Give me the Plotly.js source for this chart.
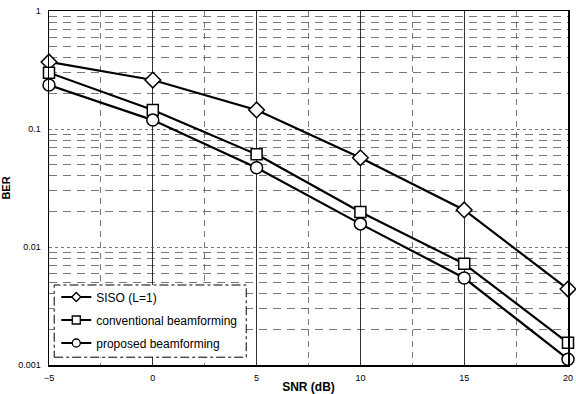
<!DOCTYPE html>
<html>
<head>
<meta charset="utf-8">
<script src="https://cdn.plot.ly/plotly-3.0.1.min.js"></script>
<style>html,body{margin:0;padding:0;background:#fff;}#chart{width:576px;height:394px;}</style>
</head>
<body>
<div id="chart"></div>
<script>
const snr = [-5, 0, 5, 10, 15, 20];
const berSISO = [0.37, 0.26, 0.145, 0.057, 0.0206, 0.0044];
const berConventional = [0.30, 0.145, 0.061, 0.0198, 0.0072, 0.00154];
const berProposed = [0.236, 0.119, 0.047, 0.0157, 0.00546, 0.00112];
const seriesNames = ["SISO (L=1)", "conventional beamforming", "proposed beamforming"];
const yTickVals = [0.001, 0.01, 0.1, 1];
const yTickText = ["0.001", "0.01", "0.1", "1"];
const xTickVals = [-5, 0, 5, 10, 15, 20];

const yMinor = [];
[0.001, 0.01, 0.1].forEach(d => { for (let k = 2; k <= 9; k++) yMinor.push(d * k); });

const symbols = ['diamond', 'square', 'circle'];
const sizes = [12, 11, 12];
const legendSizes = [7, 8, 8];
const series = [berSISO, berConventional, berProposed];

const data = [];
series.forEach((y, i) => {
  data.push({
    x: snr, y: y, name: seriesNames[i], type: 'scatter', mode: 'lines+markers',
    showlegend: false,
    line: {color: '#000', width: 2.2},
    marker: {symbol: symbols[i], size: sizes[i], color: '#fff', line: {color: '#000', width: 1.5}},
    cliponaxis: false
  });
});
series.forEach((y, i) => {
  data.push({
    x: [null], y: [null], name: seriesNames[i], type: 'scatter', mode: 'lines+markers',
    legendgroup: 'g' + i, showlegend: true,
    line: {color: '#000', width: 2.2},
    marker: {symbol: symbols[i], size: legendSizes[i], color: '#fff', line: {color: '#000', width: 1.3}}
  });
});

const layout = {
  width: 576, height: 394,
  margin: {l: 49, r: 8, t: 11, b: 29},
  paper_bgcolor: '#fff', plot_bgcolor: '#fff',
  font: {family: 'Liberation Sans, Arial, sans-serif', color: '#000', size: 9},
  showlegend: true,
  legend: {
    x: 0.014, y: 0.233, xanchor: 'left', yanchor: 'top',
    bgcolor: 'rgba(0,0,0,0)', bordercolor: '#000', borderwidth: 0,
    font: {size: 12, family: 'Liberation Sans, Arial, sans-serif'},
    tracegroupgap: 4, itemwidth: 30
  },
  shapes: [
    {type: 'rect', xref: 'paper', yref: 'paper', x0: 0.01, x1: 0.38, y0: 0.022, y1: 0.226,
     fillcolor: '#fff', line: {color: '#000', width: 1, dash: 'dashdot'}, layer: 'above'}
  ],
  xaxis: {
    range: [-5, 20], tickmode: 'array', tickvals: xTickVals,
    showline: true, linecolor: '#000', linewidth: 1.5, mirror: true,
    showgrid: true, gridcolor: '#000', gridwidth: 0.8,
    zeroline: false, ticks: '', tickfont: {size: 9}, ticklabelstandoff: 4,
    ticklabeloverflow: 'allow',
    minor: {tickmode: 'linear', tick0: -2.5, dtick: 5, showgrid: true, gridcolor: '#555', gridwidth: 0.8, griddash: '6px,5px'},
    title: {text: 'SNR (dB)', font: {size: 12, family: 'Liberation Sans, Arial, sans-serif', weight: 'bold'}, standoff: 0}
  },
  yaxis: {
    type: 'log', range: [-3, 0], tickmode: 'array', tickvals: yTickVals, ticktext: yTickText,
    showline: true, linecolor: '#000', linewidth: 1.5, mirror: true,
    showgrid: true, gridcolor: '#555', gridwidth: 0.8, griddash: 'dot',
    zeroline: false, ticks: '', tickfont: {size: 9}, ticklabelstandoff: 5,
    minor: {tickmode: 'array', tickvals: yMinor, showgrid: true, gridcolor: '#555', gridwidth: 0.8, griddash: '8px,6px'},
    title: {text: 'BER', font: {size: 11, family: 'Liberation Sans, Arial, sans-serif', weight: 'bold'}, standoff: 6}
  }
};
Plotly.newPlot('chart', data, layout, {staticPlot: true, displayModeBar: false});
</script>
</body>
</html>
